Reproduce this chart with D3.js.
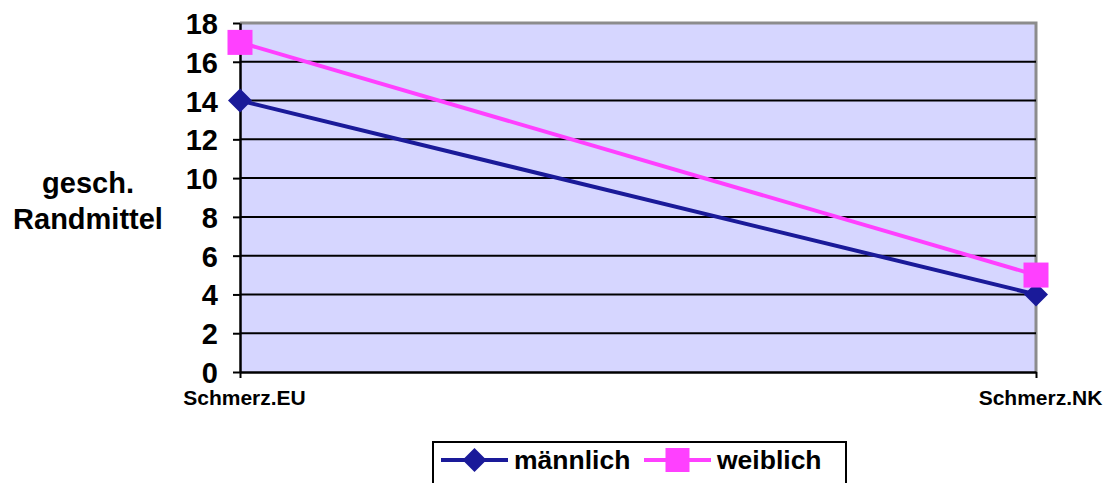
<!DOCTYPE html>
<html>
<head>
<meta charset="utf-8">
<script src="https://cdn.jsdelivr.net/npm/d3@7"></script>
<style>
  body { margin: 0; background: #fff; }
  svg { display: block; }
  text { font-family: Arial, "Liberation Sans", sans-serif; font-weight: bold; fill: #000; }
</style>
</head>
<body>
<svg id="chart" width="1110" height="483"></svg>
<script>
// Geschätzte Randmittel je Messzeitpunkt und Geschlecht
const categories = ["Schmerz.EU", "Schmerz.NK"];
const maennlich = [14, 4];
const weiblich = [17, 5];
const yTicks = [0, 2, 4, 6, 8, 10, 12, 14, 16, 18];
const seriesNames = ["männlich", "weiblich"];

const svg = d3.select("#chart");
const plot = { left: 240, right: 1036, top: 23, bottom: 372 };
const font = "Arial, 'Liberation Sans', sans-serif";

const x = d3.scalePoint().domain(categories).range([plot.left, plot.right]);
const y = d3.scaleLinear().domain([0, 18]).range([plot.bottom, plot.top]);

// Hintergrund der Zeichenfläche
svg.append("rect")
  .attr("x", plot.left).attr("y", plot.top)
  .attr("width", plot.right - plot.left).attr("height", plot.bottom - plot.top)
  .attr("fill", "#d6d6ff");

// Rahmen oben und rechts (grau)
svg.append("path")
  .attr("d", `M${plot.left},${plot.top}H${plot.right}V${plot.bottom}`)
  .attr("fill", "none").attr("stroke", "#8c8c8c").attr("stroke-width", 3);

// Gitterlinien
svg.append("g").selectAll("line")
  .data(yTicks.filter(d => d > 0 && d < 18))
  .join("line")
  .attr("x1", plot.left).attr("x2", plot.right)
  .attr("y1", d => y(d)).attr("y2", d => y(d))
  .attr("stroke", "#000").attr("stroke-width", 2);

// Y-Achse
const yAxis = svg.append("g")
  .attr("transform", `translate(${plot.left},0)`)
  .call(d3.axisLeft(y).tickValues(yTicks).tickSize(7).tickPadding(15).tickSizeOuter(0));
yAxis.select(".domain").attr("stroke", "#000").attr("stroke-width", 2.5);
yAxis.selectAll(".tick line").attr("stroke", "#000").attr("stroke-width", 2);
yAxis.selectAll(".tick text")
  .attr("font-size", 29).attr("font-family", font)
  .attr("font-weight", "bold").attr("fill", "#000").attr("dy", "0.36em");

// X-Achse
const xAxis = svg.append("g")
  .attr("transform", `translate(0,${plot.bottom})`)
  .call(d3.axisBottom(x).tickSize(6).tickPadding(0).tickSizeOuter(0));
xAxis.select(".domain").attr("stroke", "#000").attr("stroke-width", 2.5);
xAxis.selectAll(".tick line").attr("stroke", "#000").attr("stroke-width", 2);
xAxis.selectAll(".tick text")
  .attr("y", 33).attr("dy", 0).attr("dx", 4)
  .attr("font-size", 21).attr("font-family", font)
  .attr("font-weight", "bold").attr("fill", "#000");

// Achsentitel
const yTitle = svg.append("text")
  .attr("text-anchor", "middle").attr("font-size", 29);
yTitle.append("tspan").attr("x", 88).attr("y", 193).text("gesch.");
yTitle.append("tspan").attr("x", 88).attr("y", 229).text("Randmittel");

const colors = { "männlich": "#1a1a99", "weiblich": "#ff40ff" };
const line = d3.line().x((d, i) => x(categories[i])).y(d => y(d));

function diamond(g, cx, cy, r, color) {
  g.append("path")
    .attr("d", `M${cx},${cy - r}L${cx + r},${cy}L${cx},${cy + r}L${cx - r},${cy}Z`)
    .attr("fill", color);
}
function square(g, cx, cy, s, color) {
  g.append("rect")
    .attr("x", cx - s / 2).attr("y", cy - s / 2)
    .attr("width", s).attr("height", s).attr("fill", color);
}

// Linien
svg.append("path").datum(maennlich).attr("d", line)
  .attr("fill", "none").attr("stroke", colors["männlich"]).attr("stroke-width", 4);
svg.append("path").datum(weiblich).attr("d", line)
  .attr("fill", "none").attr("stroke", colors["weiblich"]).attr("stroke-width", 4);

// Marker
const marks = svg.append("g");
maennlich.forEach((v, i) => diamond(marks, x(categories[i]), y(v), 12, colors["männlich"]));
weiblich.forEach((v, i) => square(marks, x(categories[i]), y(v), 25, colors["weiblich"]));

// Legende
const legend = svg.append("g");
legend.append("rect")
  .attr("x", 433).attr("y", 442).attr("width", 413).attr("height", 50)
  .attr("fill", "#fff").attr("stroke", "#000").attr("stroke-width", 2);
const ly = 460;
legend.append("line").attr("x1", 441).attr("x2", 508).attr("y1", ly).attr("y2", ly)
  .attr("stroke", colors["männlich"]).attr("stroke-width", 4);
diamond(legend, 474.5, ly, 12, colors["männlich"]);
legend.append("text").attr("x", 514).attr("y", ly + 9).attr("font-size", 26.5).text(seriesNames[0]);
legend.append("line").attr("x1", 644).attr("x2", 711).attr("y1", ly).attr("y2", ly)
  .attr("stroke", colors["weiblich"]).attr("stroke-width", 4);
square(legend, 677.5, ly, 24, colors["weiblich"]);
legend.append("text").attr("x", 717).attr("y", ly + 9).attr("font-size", 26.5).text(seriesNames[1]);
</script>
</body>
</html>
